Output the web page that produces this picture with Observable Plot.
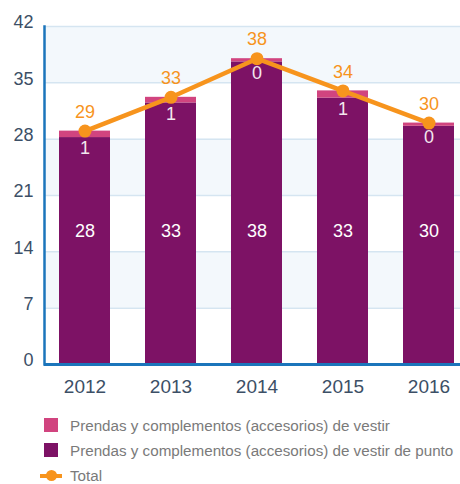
<!DOCTYPE html>
<html>
<head>
<meta charset="utf-8">
<script src="https://cdn.jsdelivr.net/npm/d3@7"></script>
<script src="https://cdn.jsdelivr.net/npm/@observablehq/plot@0.6"></script>
<style>
  body { margin: 0; background: #fff; font-family: "Liberation Sans", Arial, sans-serif; }
  #legend { padding-top: 8px; color: #7a7a7a; font-size: 15.2px; }
  .row { position: relative; height: 25px; line-height: 25px; white-space: nowrap; }
  .sw { position: absolute; left: 44px; top: 5px; width: 14px; height: 14px; }
  .lab { position: absolute; left: 70px; top: 0; }
  .ln { position: absolute; left: 40px; top: 10.5px; width: 22px; height: 4px; background: #f7941d; }
  .dt { position: absolute; left: 46px; top: 7px; width: 11px; height: 11px; border-radius: 50%; background: #f7941d; }
</style>
</head>
<body>
<div id="chart"></div>
<div id="legend"></div>
<script>
const years = ["2012", "2013", "2014", "2015", "2016"];
const seriesNames = [
  "Prendas y complementos (accesorios) de vestir",
  "Prendas y complementos (accesorios) de vestir de punto"
];
const vestir = [0.8, 0.7, 0.4, 0.9, 0.4];
const punto = [28.2, 32.5, 37.6, 33.1, 29.6];
const total = [29.0, 33.2, 38.0, 34.0, 30.0];
const yTicks = [0, 7, 14, 21, 28, 35, 42];
const colors = ["#d1447f", "#7d1265"];
const orange = "#f7941d";

const stackData = [];
years.forEach((y, i) => {
  stackData.push({year: y, series: seriesNames[1], value: punto[i]});
  stackData.push({year: y, series: seriesNames[0], value: vestir[i]});
});
const rows = years.map((y, i) => ({year: y, punto: punto[i], vestir: vestir[i], total: total[i]}));
const bands = [[35, 42], [21, 28], [7, 14]].map(([a, b]) => ({a, b}));
const fmt = d3.format(".0f");
const font = "Liberation Sans, Arial, sans-serif";

const chart = Plot.plot({
  width: 460,
  height: 405,
  marginLeft: 44,
  marginRight: 0,
  marginTop: 26,
  marginBottom: 41,
  style: {fontFamily: font, background: "#fff"},
  x: {domain: years, range: [41.5, 471.5], paddingInner: 0.41, paddingOuter: 0.205, axis: null, label: null},
  y: {domain: [0, 42], axis: null, label: null},
  color: {domain: seriesNames, range: colors},
  marks: [
    Plot.rectY(bands, {y1: "a", y2: "b", fill: "#f3f8fc"}),
    Plot.ruleY(yTicks.filter(d => d > 0), {stroke: "#d5e5f1", strokeWidth: 1.5}),
    Plot.barY(stackData, {x: "year", y: "value", fill: "series", order: seriesNames.slice().reverse()}),
    Plot.ruleY([0], {stroke: "#1b75bb", strokeWidth: 3}),
    Plot.frame({anchor: "left", stroke: "#1b75bb", strokeWidth: 2.5}),
    Plot.axisY({ticks: yTicks, tickSize: 0, tickPadding: 11, fontSize: 18, color: "#3c4f66", dy: -4, label: null}),
    Plot.axisX({tickSize: 0, tickPadding: 15, fontSize: 19, color: "#3c4f66", label: null}),
    Plot.text(rows, {x: "year", y: () => 16.5, text: d => fmt(d.punto), fill: "#fff", fontSize: 18}),
    Plot.text(rows, {x: "year", y: "punto", text: d => fmt(d.vestir), fill: "#f3e6ee", fontSize: 18, dy: 11}),
    Plot.lineY(rows, {x: "year", y: "total", stroke: orange, strokeWidth: 4.5}),
    Plot.dot(rows, {x: "year", y: "total", fill: orange, r: 6.5}),
    Plot.text(rows, {x: "year", y: "total", text: d => fmt(d.total), fill: orange, fontSize: 18, dy: -19})
  ]
});
document.getElementById("chart").appendChild(chart);

const legend = document.getElementById("legend");
seriesNames.forEach((name, i) => {
  const r = document.createElement("div");
  r.className = "row";
  r.innerHTML = `<div class="sw" style="background:${colors[i]}"></div><div class="lab"></div>`;
  r.querySelector(".lab").textContent = name;
  legend.appendChild(r);
});
const tr = document.createElement("div");
tr.className = "row";
tr.innerHTML = `<div class="ln"></div><div class="dt"></div><div class="lab">Total</div>`;
legend.appendChild(tr);
</script>
</body>
</html>
